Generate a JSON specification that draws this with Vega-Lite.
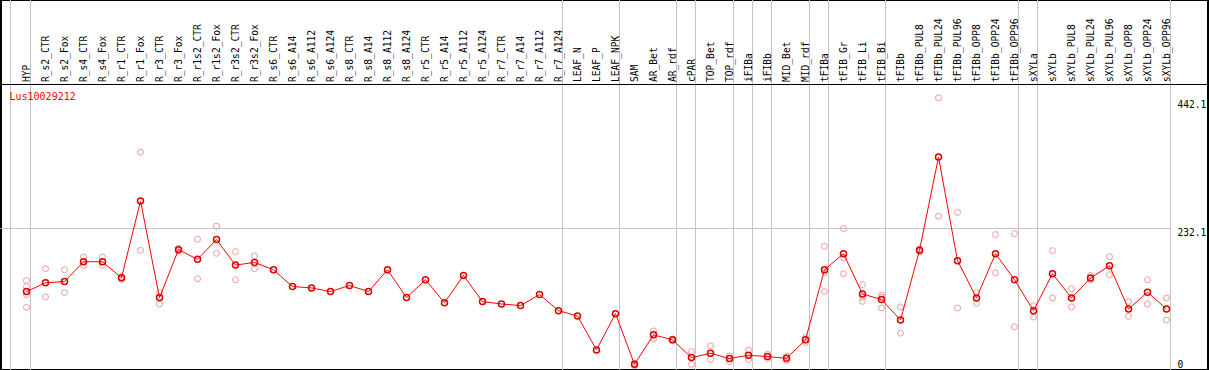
{
  "$schema": "https://vega.github.io/schema/vega-lite/v6.json",
  "width": 1207,
  "height": 370,
  "padding": {"left": 1, "right": 1, "top": 0, "bottom": 0},
  "autosize": {"type": "none"},
  "background": "white",
  "config": {
    "view": {"stroke": "black", "strokeWidth": 2},
    "font": "DejaVu Sans Mono"
  },
  "datasets": {
    "means": [
      {"cat": "HYP", "value": 128.7},
      {"cat": "R_s2_CTR", "value": 143.0},
      {"cat": "R_s2_Fox", "value": 145.2},
      {"cat": "R_s4_CTR", "value": 177.6},
      {"cat": "R_s4_Fox", "value": 177.6},
      {"cat": "R_r1_CTR", "value": 151.2},
      {"cat": "R_r1_Fox", "value": 277.1},
      {"cat": "R_r3_CTR", "value": 118.8},
      {"cat": "R_r3_Fox", "value": 197.4},
      {"cat": "R_r1s2_CTR", "value": 181.5},
      {"cat": "R_r1s2_Fox", "value": 213.9},
      {"cat": "R_r3s2_CTR", "value": 172.1},
      {"cat": "R_r3s2_Fox", "value": 176.5},
      {"cat": "R_s6_CTR", "value": 164.4},
      {"cat": "R_s6_A14", "value": 136.9},
      {"cat": "R_s6_A112", "value": 134.7},
      {"cat": "R_s6_A124", "value": 128.7},
      {"cat": "R_s8_CTR", "value": 138.6},
      {"cat": "R_s8_A14", "value": 128.7},
      {"cat": "R_s8_A112", "value": 164.4},
      {"cat": "R_s8_A124", "value": 118.8},
      {"cat": "R_r5_CTR", "value": 148.0},
      {"cat": "R_r5_A14", "value": 110.5},
      {"cat": "R_r5_A112", "value": 155.1},
      {"cat": "R_r5_A124", "value": 112.2},
      {"cat": "R_r7_CTR", "value": 108.3},
      {"cat": "R_r7_A14", "value": 105.6},
      {"cat": "R_r7_A112", "value": 123.7},
      {"cat": "R_r7_A124", "value": 97.3},
      {"cat": "LEAF_N", "value": 88.6},
      {"cat": "LEAF_P", "value": 33.0},
      {"cat": "LEAF_NPK", "value": 92.4},
      {"cat": "SAM", "value": 9.4},
      {"cat": "AR_Bet", "value": 57.7},
      {"cat": "AR_rdf", "value": 49.5},
      {"cat": "cPAR", "value": 20.3},
      {"cat": "TOP_Bet", "value": 27.5},
      {"cat": "TOP_rdf", "value": 18.7},
      {"cat": "iFIBa", "value": 24.2},
      {"cat": "iFIBb", "value": 22.0},
      {"cat": "MID_Bet", "value": 19.2},
      {"cat": "MID_rdf", "value": 49.5},
      {"cat": "tFIBa", "value": 164.4},
      {"cat": "tFIB_Gr", "value": 190.8},
      {"cat": "tFIB_Li", "value": 124.8},
      {"cat": "tFIB_Bi", "value": 115.5},
      {"cat": "tFIBb", "value": 82.0},
      {"cat": "tFIBb_PUL8", "value": 196.3},
      {"cat": "tFIBb_PUL24", "value": 349.2},
      {"cat": "tFIBb_PUL96", "value": 179.3},
      {"cat": "tFIBb_OPP8", "value": 118.2},
      {"cat": "tFIBb_OPP24", "value": 190.8},
      {"cat": "tFIBb_OPP96", "value": 148.0},
      {"cat": "sXYLa", "value": 97.3},
      {"cat": "sXYLb", "value": 157.9},
      {"cat": "sXYLb_PUL8", "value": 118.2},
      {"cat": "sXYLb_PUL24", "value": 150.7},
      {"cat": "sXYLb_PUL96", "value": 171.0},
      {"cat": "sXYLb_OPP8", "value": 100.1},
      {"cat": "sXYLb_OPP24", "value": 127.6},
      {"cat": "sXYLb_OPP96", "value": 100.1}
    ],
    "reps": [
      {"cat": "HYP", "value": 146.8}, {"cat": "HYP", "value": 136.9}, {"cat": "HYP", "value": 123.7}, {"cat": "HYP", "value": 102.8},
      {"cat": "R_s2_CTR", "value": 166.1}, {"cat": "R_s2_CTR", "value": 119.9},
      {"cat": "R_s2_Fox", "value": 164.4}, {"cat": "R_s2_Fox", "value": 127.0},
      {"cat": "R_s4_CTR", "value": 185.3}, {"cat": "R_s4_CTR", "value": 171.6},
      {"cat": "R_s4_Fox", "value": 185.3}, {"cat": "R_s4_Fox", "value": 171.6},
      {"cat": "R_r1_CTR", "value": 153.0}, {"cat": "R_r1_CTR", "value": 149.0},
      {"cat": "R_r1_Fox", "value": 357.4}, {"cat": "R_r1_Fox", "value": 196.3},
      {"cat": "R_r3_CTR", "value": 127.0}, {"cat": "R_r3_CTR", "value": 108.3},
      {"cat": "R_r3_Fox", "value": 199.6}, {"cat": "R_r3_Fox", "value": 195.2},
      {"cat": "R_r1s2_CTR", "value": 214.5}, {"cat": "R_r1s2_CTR", "value": 149.6},
      {"cat": "R_r1s2_Fox", "value": 235.9}, {"cat": "R_r1s2_Fox", "value": 191.4},
      {"cat": "R_r3s2_CTR", "value": 194.2}, {"cat": "R_r3s2_CTR", "value": 148.0},
      {"cat": "R_r3s2_Fox", "value": 187.0}, {"cat": "R_r3s2_Fox", "value": 166.1},
      {"cat": "SAM", "value": 11.0}, {"cat": "SAM", "value": 7.1},
      {"cat": "AR_Bet", "value": 64.3}, {"cat": "AR_Bet", "value": 51.1},
      {"cat": "AR_rdf", "value": 51.0}, {"cat": "AR_rdf", "value": 48.0},
      {"cat": "cPAR", "value": 30.2}, {"cat": "cPAR", "value": 20.3}, {"cat": "cPAR", "value": 9.4},
      {"cat": "TOP_Bet", "value": 39.6}, {"cat": "TOP_Bet", "value": 17.6},
      {"cat": "TOP_rdf", "value": 23.1}, {"cat": "TOP_rdf", "value": 13.7},
      {"cat": "iFIBa", "value": 32.5}, {"cat": "iFIBa", "value": 17.0},
      {"cat": "iFIBb", "value": 25.8}, {"cat": "iFIBb", "value": 18.7},
      {"cat": "MID_Bet", "value": 22.6}, {"cat": "MID_Bet", "value": 16.0},
      {"cat": "MID_rdf", "value": 53.3}, {"cat": "MID_rdf", "value": 45.0},
      {"cat": "tFIBa", "value": 202.9}, {"cat": "tFIBa", "value": 160.5}, {"cat": "tFIBa", "value": 128.7},
      {"cat": "tFIB_Gr", "value": 232.1}, {"cat": "tFIB_Gr", "value": 183.6}, {"cat": "tFIB_Gr", "value": 157.9},
      {"cat": "tFIB_Li", "value": 140.2}, {"cat": "tFIB_Li", "value": 119.3}, {"cat": "tFIB_Li", "value": 112.7},
      {"cat": "tFIB_Bi", "value": 122.6}, {"cat": "tFIB_Bi", "value": 119.3}, {"cat": "tFIB_Bi", "value": 101.8},
      {"cat": "tFIBb", "value": 103.4}, {"cat": "tFIBb", "value": 60.5},
      {"cat": "tFIBb_PUL8", "value": 198.5}, {"cat": "tFIBb_PUL8", "value": 194.0},
      {"cat": "tFIBb_PUL24", "value": 446.5}, {"cat": "tFIBb_PUL24", "value": 252.4},
      {"cat": "tFIBb_PUL96", "value": 258.5}, {"cat": "tFIBb_PUL96", "value": 101.8},
      {"cat": "tFIBb_OPP8", "value": 127.0}, {"cat": "tFIBb_OPP8", "value": 109.4},
      {"cat": "tFIBb_OPP24", "value": 222.1}, {"cat": "tFIBb_OPP24", "value": 159.5},
      {"cat": "tFIBb_OPP96", "value": 223.8}, {"cat": "tFIBb_OPP96", "value": 70.9},
      {"cat": "sXYLa", "value": 105.6}, {"cat": "sXYLa", "value": 86.9},
      {"cat": "sXYLb", "value": 195.8}, {"cat": "sXYLb", "value": 118.2},
      {"cat": "sXYLb_PUL8", "value": 133.1}, {"cat": "sXYLb_PUL8", "value": 103.4},
      {"cat": "sXYLb_PUL24", "value": 155.1}, {"cat": "sXYLb_PUL24", "value": 148.0},
      {"cat": "sXYLb_PUL96", "value": 185.9}, {"cat": "sXYLb_PUL96", "value": 156.2},
      {"cat": "sXYLb_OPP8", "value": 112.2}, {"cat": "sXYLb_OPP8", "value": 88.0},
      {"cat": "sXYLb_OPP24", "value": 148.0}, {"cat": "sXYLb_OPP24", "value": 108.3},
      {"cat": "sXYLb_OPP96", "value": 118.2}, {"cat": "sXYLb_OPP96", "value": 82.0}
    ],
    "groupEnds": [
      {"cat": "HYP"}, {"cat": "R_r7_A124"}, {"cat": "LEAF_NPK"}, {"cat": "AR_rdf"},
      {"cat": "cPAR"}, {"cat": "TOP_rdf"}, {"cat": "iFIBa"}, {"cat": "iFIBb"},
      {"cat": "MID_rdf"}, {"cat": "tFIBa"}, {"cat": "tFIB_Bi"}, {"cat": "tFIBb_OPP96"},
      {"cat": "sXYLa"}, {"cat": "sXYLb_OPP96"}
    ],
    "titleRow": [{"name": "Lus10029212"}]
  },
  "encoding": {
    "x": {
      "field": "cat",
      "type": "nominal",
      "scale": {
        "type": "point",
        "padding": 0,
        "range": [25.5, 1165.5],
        "domain": ["HYP","R_s2_CTR","R_s2_Fox","R_s4_CTR","R_s4_Fox","R_r1_CTR","R_r1_Fox","R_r3_CTR","R_r3_Fox","R_r1s2_CTR","R_r1s2_Fox","R_r3s2_CTR","R_r3s2_Fox","R_s6_CTR","R_s6_A14","R_s6_A112","R_s6_A124","R_s8_CTR","R_s8_A14","R_s8_A112","R_s8_A124","R_r5_CTR","R_r5_A14","R_r5_A112","R_r5_A124","R_r7_CTR","R_r7_A14","R_r7_A112","R_r7_A124","LEAF_N","LEAF_P","LEAF_NPK","SAM","AR_Bet","AR_rdf","cPAR","TOP_Bet","TOP_rdf","iFIBa","iFIBb","MID_Bet","MID_rdf","tFIBa","tFIB_Gr","tFIB_Li","tFIB_Bi","tFIBb","tFIBb_PUL8","tFIBb_PUL24","tFIBb_PUL96","tFIBb_OPP8","tFIBb_OPP24","tFIBb_OPP96","sXYLa","sXYLb","sXYLb_PUL8","sXYLb_PUL24","sXYLb_PUL96","sXYLb_OPP8","sXYLb_OPP24","sXYLb_OPP96"]
      },
      "axis": null
    }
  },
  "layer": [
    {
      "data": {"name": "groupEnds"},
      "mark": {"type": "rule", "color": "#c4c4c4", "strokeWidth": 1, "xOffset": 4},
      "encoding": {}
    },
    {
      "data": {"values": [{"cat": "HYP"}]},
      "mark": {"type": "rule", "color": "#c4c4c4", "strokeWidth": 1, "xOffset": -16},
      "encoding": {}
    },
    {
      "data": {"values": [{"level": 232.1}]},
      "mark": {"type": "rule", "color": "#c4c4c4", "strokeWidth": 1, "xOffset": -26, "x2Offset": 4},
      "encoding": {
        "x": {"datum": "HYP"},
        "x2": {"datum": "sXYLb_OPP96"},
        "y": {"field": "level", "type": "quantitative"}
      }
    },
    {
      "data": {"values": [{"level": 468.3}]},
      "mark": {"type": "rule", "color": "black", "strokeWidth": 1},
      "encoding": {
        "x": null,
        "y": {"field": "level", "type": "quantitative"}
      }
    },
    {
      "data": {"name": "reps"},
      "mark": {"type": "point", "shape": "circle", "filled": false, "color": "#ee9a9a", "strokeWidth": 1, "size": 36, "opacity": 1},
      "encoding": {
        "y": {
          "field": "value",
          "type": "quantitative",
          "scale": {"domain": [0, 606.9], "nice": false, "zero": false},
          "axis": {
            "orient": "right",
            "offset": -31,
            "values": [0, 232.1, 442.1],
            "format": ".1~f",
            "title": null,
            "grid": false,
            "ticks": false,
            "domain": false,
            "labelPadding": 0,
            "labelAlign": "left",
            "labelOffset": -1,
            "labelBaseline": {"condition": {"test": "datum.value == 0", "value": "bottom"}, "value": "top"},
            "labelFont": "DejaVu Sans Mono",
            "labelFontSize": 9.6,
            "labelColor": "black"
          }
        }
      }
    },
    {
      "data": {"name": "means"},
      "mark": {"type": "line", "color": "#ff0000", "strokeWidth": 1},
      "encoding": {
        "y": {"field": "value", "type": "quantitative"},
        "order": {"value": null}
      }
    },
    {
      "data": {"name": "means"},
      "mark": {"type": "point", "shape": "circle", "filled": false, "color": "#dd0000", "strokeWidth": 1.5, "size": 36, "opacity": 1},
      "encoding": {
        "y": {"field": "value", "type": "quantitative"}
      }
    },
    {
      "data": {"name": "means"},
      "mark": {"type": "text", "angle": 270, "align": "left", "baseline": "middle", "font": "DejaVu Sans Mono", "fontSize": 9.6, "color": "black"},
      "encoding": {
        "y": {"datum": 472.4, "type": "quantitative"},
        "text": {"field": "cat"}
      }
    },
    {
      "data": {"name": "titleRow"},
      "mark": {"type": "text", "align": "left", "baseline": "middle", "font": "DejaVu Sans Mono", "fontSize": 10, "color": "#ff0000", "dx": -17},
      "encoding": {
        "x": {"datum": "HYP"},
        "y": {"datum": 447.8, "type": "quantitative"},
        "text": {"field": "name"}
      }
    }
  ]
}
